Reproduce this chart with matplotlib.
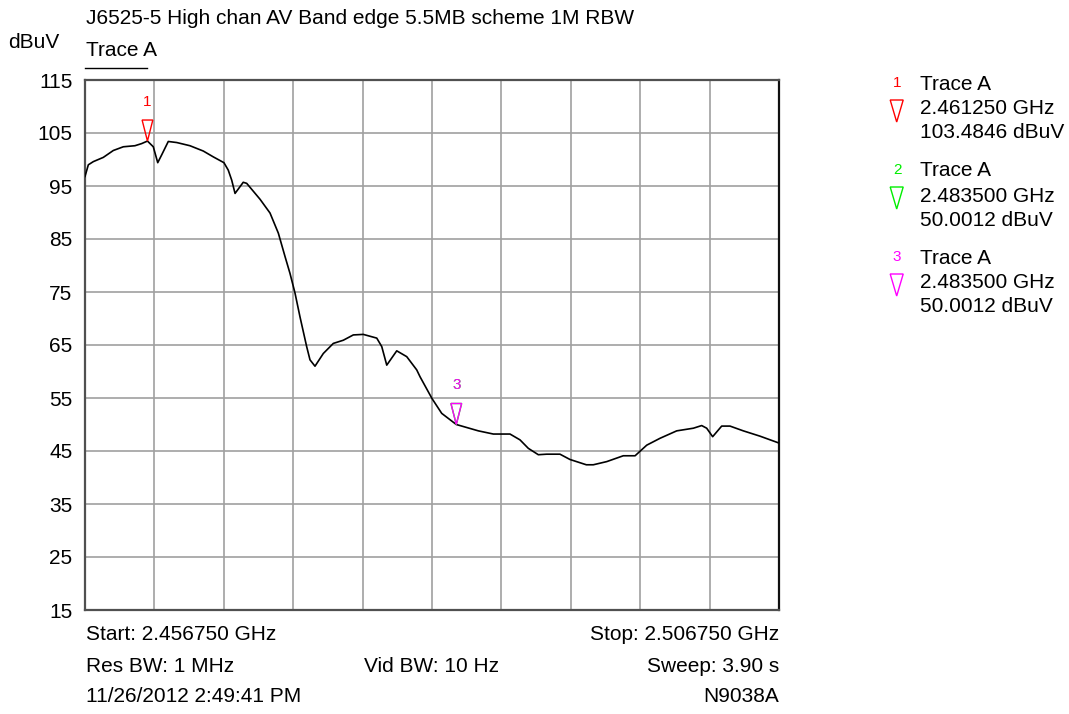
import matplotlib
matplotlib.use("Agg")
import matplotlib.pyplot as plt
from matplotlib.patches import Polygon
from matplotlib.lines import Line2D

plt.rcParams['font.family'] = ['Liberation Sans', 'DejaVu Sans']

# ---- data ----
freq_ghz = [2.45675, 2.45699, 2.45735, 2.45807, 2.45879, 2.45951, 2.46035, 2.46083,
            2.46125, 2.46167, 2.46199, 2.46228, 2.46275, 2.46336, 2.46431, 2.46527,
            2.46599, 2.46676, 2.46707, 2.46732, 2.46756, 2.46815, 2.46840, 2.46936,
            2.47008, 2.47068, 2.47116, 2.47152, 2.47188, 2.47224, 2.47272, 2.47296,
            2.47332, 2.47392, 2.47464, 2.47536, 2.47608, 2.47680, 2.47777, 2.47813,
            2.47849, 2.47921, 2.47993, 2.48065, 2.48089, 2.48175, 2.48245, 2.48350,
            2.48509, 2.48617, 2.48737, 2.48809, 2.48869, 2.48941, 2.49001, 2.49097,
            2.49169, 2.49287, 2.49337, 2.49434, 2.49553, 2.49638, 2.49722, 2.49818,
            2.49938, 2.50058, 2.50118, 2.50154, 2.50197, 2.50262, 2.50322, 2.50418,
            2.50538, 2.50675]
level_dbuv = [96.8, 99.0, 99.6, 100.4, 101.7, 102.4, 102.6, 103.0,
              103.48, 102.4, 99.4, 100.9, 103.4, 103.2, 102.6, 101.6,
              100.5, 99.4, 98.0, 96.1, 93.6, 95.7, 95.5, 92.5,
              89.9, 86.1, 81.7, 78.5, 74.8, 70.3, 64.7, 62.2,
              61.0, 63.4, 65.3, 65.9, 66.9, 67.0, 66.3, 64.7,
              61.2, 63.9, 62.8, 60.3, 59.0, 54.9, 52.1, 50.0,
              48.8, 48.2, 48.2, 47.1, 45.5, 44.3, 44.4, 44.4,
              43.4, 42.4, 42.4, 43.0, 44.1, 44.1, 46.1, 47.4,
              48.8, 49.3, 49.8, 49.3, 47.7, 49.7, 49.7, 48.8,
              47.8, 46.5]

y_ticks = [115, 105, 95, 85, 75, 65, 55, 45, 35, 25, 15]
start_ghz = 2.456750
stop_ghz = 2.506750

marker_ids = ['1', '2', '3']
marker_freq = [2.461250, 2.483500, 2.483500]
marker_level = [103.4846, 50.0012, 50.0012]
marker_colors = ['#FF0000', '#00EE00', '#FF00FF']

title = "J6525-5 High chan AV Band edge 5.5MB scheme 1M RBW"

FS = 15
W, H = 1069, 714
fig = plt.figure(figsize=(W / 100, H / 100), dpi=100)
fig.patch.set_facecolor('white')

L, R, T, B = 85, 779, 80, 610
ax = fig.add_axes([L / W, 1 - B / H, (R - L) / W, (B - T) / H])
ax.set_xlim(start_ghz, stop_ghz)
ax.set_ylim(15, 115)

step = (stop_ghz - start_ghz) / 10
xgrid = [start_ghz + i * step for i in range(11)]
ax.set_xticks(xgrid)
ax.set_xticklabels([])
ax.set_yticks(y_ticks)
ax.set_yticklabels([str(v) for v in y_ticks], fontsize=FS)
ax.tick_params(axis='both', length=0, pad=9)
ax.grid(True, color='#A0A0A0', linewidth=1.2)
ax.set_axisbelow(True)
for s in ['top', 'bottom', 'left']:
    ax.spines[s].set_color('#505050')
    ax.spines[s].set_linewidth(1.6)
ax.spines['right'].set_color('#101010')
ax.spines['right'].set_linewidth(1.6)

ax.plot(freq_ghz, level_dbuv, color='black', linewidth=1.2, zorder=5)

def px(x, y):
    return (x / W, 1 - y / H)

def tri(cx, ytop, w, h, color):
    # cx, ytop in display pixels (origin bottom-left)
    verts = [(cx - w / 2, ytop), (cx + w / 2, ytop), (cx, ytop - h)]
    p = Polygon(verts, closed=True, fill=False, edgecolor=color, linewidth=1.0,
                transform=None, zorder=10)
    fig.add_artist(p)

fig.canvas.draw()

# markers in plot: draw 2 then 3 over it, then 1
order = [1, 2, 0]
for i in order:
    tx, ty = ax.transData.transform((marker_freq[i], marker_level[i]))
    tri(tx, ty + 21, 10.7, 21, marker_colors[i])
    lab = marker_ids[i]
    if i == 1:
        lab = '3'
    fig.text(tx / W, (ty + 39) / H, lab, color=marker_colors[i], fontsize=11,
             ha='center', va='center')

# Header texts
fig.text(*px(86, 19), title, fontsize=FS, ha='left', va='center')
fig.text(*px(8, 43), "dBuV", fontsize=FS, ha='left', va='center')
fig.text(*px(86, 51), "Trace A", fontsize=FS, ha='left', va='center')
fig.add_artist(Line2D([85 / W, 147 / W], [1 - 68 / H, 1 - 68 / H], color='black',
                      linewidth=1.0, transform=fig.transFigure))

# Marker table on the right
group_y = [84, 171, 258]
for i in range(3):
    gy = group_y[i]
    fig.text(*px(897, gy - 1), marker_ids[i], color=marker_colors[i], fontsize=11,
             ha='center', va='center')
    fig.text(*px(920, gy), "Trace A", fontsize=FS, ha='left', va='center')
    cx, cy = 896.7, H - (gy + 16)
    tri(cx, cy, 13, 22, marker_colors[i])
    fig.text(*px(920, gy + 25), f"{marker_freq[i]:.6f} GHz", fontsize=FS,
             ha='left', va='center')
    fig.text(*px(920, gy + 49), f"{marker_level[i]:.4f} dBuV", fontsize=FS,
             ha='left', va='center')

# Footer
fig.text(*px(86, 635), f"Start: {start_ghz:.6f} GHz", fontsize=FS, ha='left', va='center')
fig.text(*px(779, 635), f"Stop: {stop_ghz:.6f} GHz", fontsize=FS, ha='right', va='center')
fig.text(*px(86, 666), "Res BW: 1 MHz", fontsize=FS, ha='left', va='center')
fig.text(*px(432, 666), "Vid BW: 10 Hz", fontsize=FS, ha='center', va='center')
fig.text(*px(779, 666), "Sweep: 3.90 s", fontsize=FS, ha='right', va='center')
fig.text(*px(86, 697), "11/26/2012 2:49:41 PM", fontsize=FS, ha='left', va='center')
fig.text(*px(779, 697), "N9038A", fontsize=FS, ha='right', va='center')

fig.savefig("out.png", dpi=100, facecolor='white')
